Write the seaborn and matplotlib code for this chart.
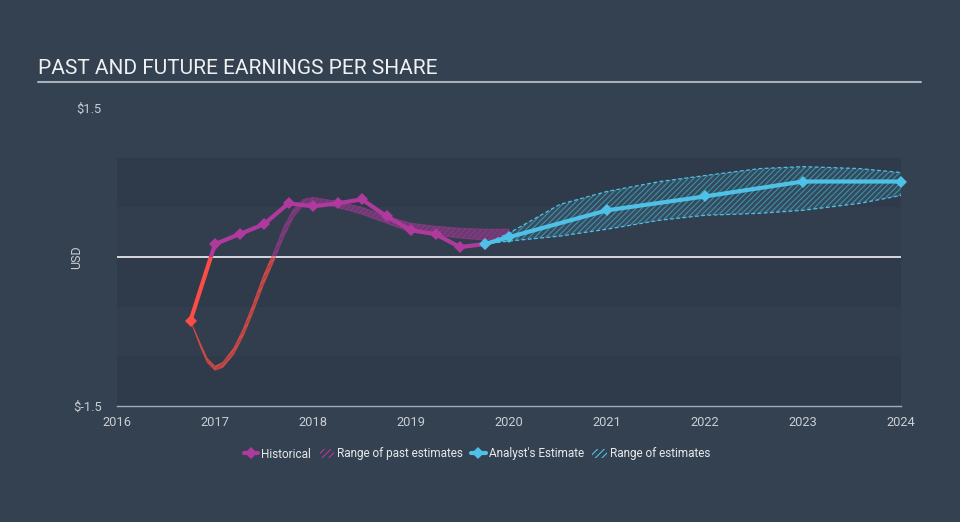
import matplotlib
matplotlib.use('Agg')
import matplotlib.pyplot as plt
import seaborn as sns
from matplotlib.patches import Rectangle, Patch
from matplotlib.lines import Line2D

# historical EPS (quarterly)
hist_x = [2016.75, 2017.0, 2017.25, 2017.5, 2017.75, 2018.0, 2018.25, 2018.5,
          2018.75, 2019.0, 2019.25, 2019.5, 2019.75]
hist_eps = [-0.64, 0.13, 0.23, 0.33, 0.54, 0.51, 0.54, 0.58, 0.41, 0.27, 0.23, 0.10, 0.13]

# range of past estimates
past_x = [2016.75, 2016.85, 2016.92, 2017.0, 2017.08, 2017.19, 2017.29, 2017.39, 2017.49,
          2017.6, 2017.7, 2017.8, 2017.9, 2018.0, 2018.25, 2018.5, 2018.75, 2019.0,
          2019.25, 2019.5, 2019.75, 2020.0]
past_hi = [-0.64, -0.87, -1.02, -1.10, -1.06, -0.92, -0.72, -0.47, -0.20,
           0.05, 0.30, 0.48, 0.58, 0.60, 0.56, 0.50, 0.41, 0.34, 0.31, 0.29, 0.28, 0.28]
past_lo = [-0.64, -0.90, -1.06, -1.14, -1.11, -0.98, -0.79, -0.55, -0.29,
           -0.04, 0.20, 0.40, 0.52, 0.55, 0.50, 0.43, 0.34, 0.25, 0.22, 0.19, 0.17, 0.20]

# analyst estimates
est_x = [2019.75, 2020.0, 2021.0, 2022.0, 2023.0, 2024.0]
est_eps = [0.13, 0.20, 0.47, 0.61, 0.76, 0.76]

band_x = [2019.75, 2020.0, 2020.52, 2021.0, 2021.54, 2022.0, 2022.56, 2023.0, 2023.58, 2024.0]
band_hi = [0.13, 0.24, 0.53, 0.66, 0.76, 0.82, 0.89, 0.91, 0.89, 0.85]
band_lo = [0.13, 0.16, 0.21, 0.28, 0.37, 0.42, 0.44, 0.47, 0.54, 0.62]

years = [2016, 2017, 2018, 2019, 2020, 2021, 2022, 2023, 2024]

BG = '#344150'
PURPLE = '#b0399d'
RED = '#fb4d46'
CYAN = '#4fc1e6'
TXT = '#c9ced4'

sns.set_theme(style='dark')
plt.rcParams['font.family'] = ['Roboto', 'DejaVu Sans']
plt.rcParams['hatch.linewidth'] = 0.8

fig = plt.figure(figsize=(9.6, 5.22), dpi=100, facecolor=BG)
ax = fig.add_axes([117 / 960, 1 - 406 / 522, 784 / 960, 298 / 522])
ax.set_facecolor(BG)
ax.set_xlim(2016, 2024)
ax.set_ylim(-1.5, 1.5)

# background bands
for lo, hi, c in [(0.5, 1.0, '#2f3b4a'), (0.0, 0.5, '#323e4d'), (-0.5, 0.0, '#2f3b4a'),
                  (-1.0, -0.5, '#323e4d'), (-1.5, -1.0, '#2f3b4a')]:
    ax.axhspan(lo, hi, color=c, lw=0, zorder=0)

ax.axhline(0, color='#f2f4f6', lw=1.2, zorder=1)

above = Rectangle((2000, 0), 40, 10, transform=ax.transData)
below = Rectangle((2000, -10), 40, 10, transform=ax.transData)

# past estimate range (red below zero, purple above)
for col, clip, a in [(PURPLE, above, 0.45), (RED, below, 0.6)]:
    pc = ax.fill_between(past_x, past_lo, past_hi, facecolor=col, alpha=a,
                         edgecolor=col, hatch='//////', lw=0.7, zorder=2)
    pc.set_clip_path(clip)

# future estimate range
ax.fill_between(band_x, band_lo, band_hi, facecolor=CYAN, alpha=0.12,
                edgecolor='none', lw=0, zorder=2)
ax.fill_between(band_x, band_lo, band_hi, facecolor='none', alpha=0.55,
                edgecolor=CYAN, hatch='//////', lw=0, zorder=2)
ax.plot(band_x, band_hi, color=CYAN, lw=0.9, ls=(0, (3, 2)), zorder=3)
ax.plot(band_x, band_lo, color=CYAN, lw=0.9, ls=(0, (3, 2)), zorder=3)

# historical line
for col, clip in [(PURPLE, above), (RED, below)]:
    sns.lineplot(x=hist_x, y=hist_eps, ax=ax, color=col, lw=3, marker='D',
                 markersize=6.5, markeredgewidth=0, sort=False, zorder=4)
    ax.lines[-1].set_clip_path(clip)

sns.lineplot(x=est_x, y=est_eps, ax=ax, color=CYAN, lw=3, marker='D',
             markersize=6.5, markeredgewidth=0, sort=False, zorder=5, clip_on=False)

# axes styling
for s in ['top', 'right', 'left']:
    ax.spines[s].set_visible(False)
ax.spines['bottom'].set_color('#a3adb7')
ax.spines['bottom'].set_linewidth(1)
ax.set_xticks(years)
ax.set_xticklabels([str(y) for y in years])
ax.set_yticks([-1.5, 1.5])
ax.set_yticklabels([r'\$-1.5', r'\$1.5'])
ax.tick_params(axis='x', colors='#a3adb7', labelcolor=TXT, direction='out',
               length=6, width=1, labelsize=9.3, pad=1)
ax.tick_params(axis='y', length=0, labelcolor=TXT, labelsize=9.3, pad=11)
ax.grid(False)
ax.set_xlabel('')
ax.set_ylabel('')
ax.text(-0.051, 0.5, 'USD', transform=ax.transAxes, rotation=90, ha='center',
        va='center', color=TXT, fontsize=9)

# title
fig.text(38 / 960, 1 - 68 / 522, 'PAST AND FUTURE EARNINGS PER SHARE', color='#eef0f2',
         fontsize=15, va='center', ha='left')
fig.add_artist(Line2D([38 / 960, 921 / 960], [1 - 82 / 522] * 2, color='#a8b0b8', lw=1.5))

# legend
handles = [
    Line2D([], [], color=PURPLE, lw=3, marker='D', markersize=6.5, markeredgewidth=0),
    Patch(facecolor='none', edgecolor=PURPLE, hatch='/////', lw=0),
    Line2D([], [], color=CYAN, lw=3, marker='D', markersize=6.5, markeredgewidth=0),
    Patch(facecolor='none', edgecolor=CYAN, hatch='/////', lw=0),
]
labels = ['Historical', 'Range of past estimates', "Analyst's Estimate", 'Range of estimates']
leg = fig.legend(handles, labels, loc='center', bbox_to_anchor=(0.497, 1 - 454 / 522),
                 ncol=4, frameon=False, fontsize=8.5, handlelength=1.2, handleheight=0.8,
                 handletextpad=0.3, columnspacing=0.7)
for t in leg.get_texts():
    t.set_color('#e6e9ec')

fig.savefig('out.png', dpi=100, facecolor=BG)
